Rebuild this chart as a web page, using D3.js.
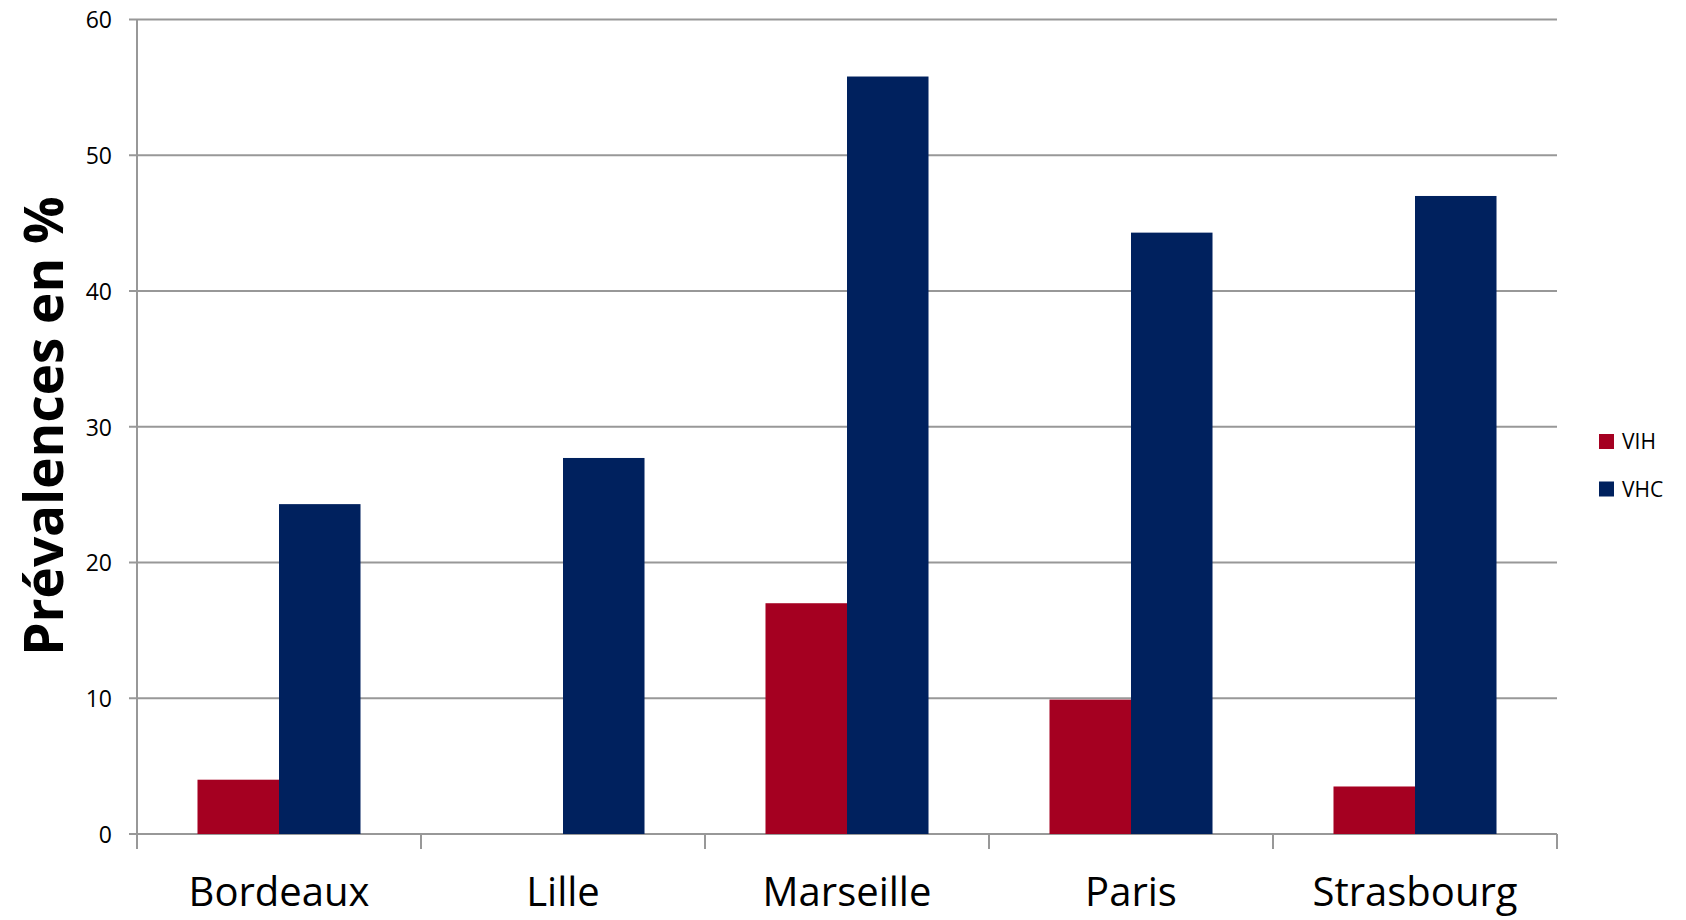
<!DOCTYPE html>
<html>
<head>
<meta charset="utf-8">
<script src="https://cdn.jsdelivr.net/npm/d3@7"></script>
<style>
  body { margin: 0; background: #fff; }
  svg text { font-family: "Open Sans", sans-serif; fill: #000; }
</style>
</head>
<body>
<div id="chart"></div>
<script>
// data
const cities = ['Bordeaux', 'Lille', 'Marseille', 'Paris', 'Strasbourg'];
const series = ['VIH', 'VHC'];
const vih = [4.0, 0, 17.0, 9.9, 3.5];
const vhc = [24.3, 27.7, 55.8, 44.3, 47.0];
const yTicks = [0, 10, 20, 30, 40, 50, 60];
const colors = ['#A50021', '#00215E'];

const W = 1686, H = 920;
const margin = { top: 19.5, right: 129, bottom: 86, left: 137 };
const width = W - margin.left - margin.right,
	height = H - margin.top - margin.bottom;

const svg = d3
	.select('#chart')
	.append('svg')
	.attr('width', W)
	.attr('height', H);

const g = svg.append('g').attr('transform', `translate(${margin.left},${margin.top})`);

const x = d3.scaleBand().domain(cities).range([0, width]);
// the pair of bars fills the middle of each band
const x1 = d3
	.scaleBand()
	.domain(series)
	.range([x.bandwidth() * 0.213, x.bandwidth() * 0.787]);
const y = d3.scaleLinear().domain([0, 60]).range([height, 0]);

// gridlines
g.append('g')
	.selectAll('line')
	.data(yTicks)
	.join('line')
	.attr('x1', -8)
	.attr('x2', width)
	.attr('y1', (d) => y(d))
	.attr('y2', (d) => y(d))
	.attr('stroke', '#989898')
	.attr('stroke-width', 2);

// y axis labels
const yAxis = g.append('g').call(d3.axisLeft(y).tickValues(yTicks).tickSize(8).tickPadding(17));
yAxis.select('.domain').remove();
yAxis.selectAll('line').remove();
yAxis.selectAll('text').style('font-size', '23px').attr('dy', '0.36em');

// bars
const rows = cities.map((c, i) => ({ city: c, values: [vih[i], vhc[i]] }));
g.append('g')
	.selectAll('g')
	.data(rows)
	.join('g')
	.attr('transform', (d) => `translate(${x(d.city)},0)`)
	.selectAll('rect')
	.data((d) => d.values.map((v, j) => ({ key: series[j], value: v, j })))
	.join('rect')
	.attr('x', (d) => x1(d.key))
	.attr('width', x1.bandwidth())
	.attr('y', (d) => y(d.value))
	.attr('height', (d) => height - y(d.value))
	.attr('fill', (d) => colors[d.j]);

// y axis line
g.append('line')
	.attr('x1', 0).attr('x2', 0)
	.attr('y1', 0).attr('y2', height + 15)
	.attr('stroke', '#989898')
	.attr('stroke-width', 2);

// x axis with category separators
g.append('g')
	.selectAll('line')
	.data(d3.range(cities.length + 1))
	.join('line')
	.attr('x1', (d) => d * x.step())
	.attr('x2', (d) => d * x.step())
	.attr('y1', height)
	.attr('y2', height + 15)
	.attr('stroke', '#989898')
	.attr('stroke-width', 2);

g.append('g')
	.selectAll('text')
	.data(cities)
	.join('text')
	.attr('x', (d) => x(d) + x.bandwidth() / 2)
	.attr('y', height + 72)
	.attr('text-anchor', 'middle')
	.style('font-size', '40px')
	.text((d) => d);

// y title
svg.append('text')
	.attr('transform', 'translate(63,426) rotate(-90)')
	.attr('text-anchor', 'middle')
	.style('font-size', '53px')
	.style('font-weight', 'bold')
	.text('Prévalences en %');

// legend
const legend = svg
	.append('g')
	.selectAll('g')
	.data(series)
	.join('g')
	.attr('transform', (d, i) => `translate(1599,${434 + i * 47.5})`);
legend.append('rect')
	.attr('width', 15)
	.attr('height', 15)
	.attr('fill', (d, i) => colors[i]);
legend.append('text')
	.attr('x', 23)
	.attr('y', 15)
	.style('font-size', '21px')
	.text((d) => d);
</script>
</body>
</html>
